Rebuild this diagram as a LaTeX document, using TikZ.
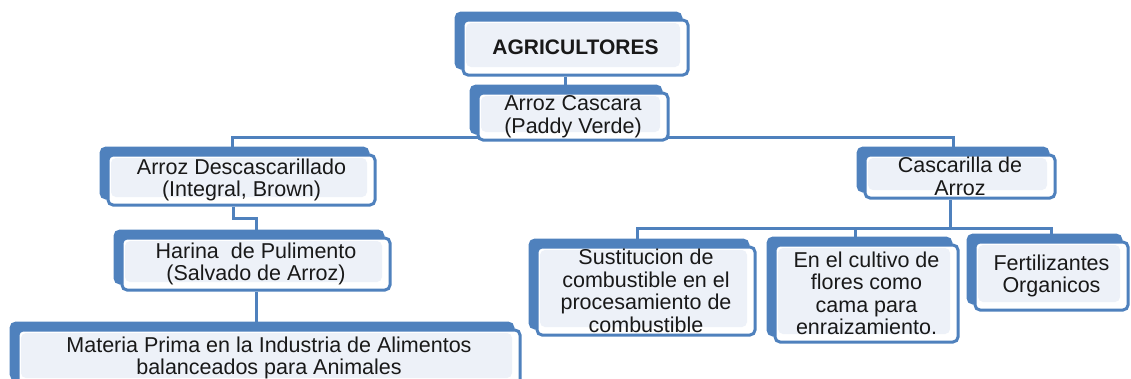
\documentclass[tikz,border=0pt]{standalone}
\usepackage{fontspec}
\setmainfont{Liberation Sans}
\usetikzlibrary{positioning,shadows,backgrounds}
\definecolor{boxblue}{HTML}{4F81BD}
\definecolor{boxfill}{HTML}{EDF1F8}

\begin{document}
\begin{tikzpicture}[
  x=1pt,y=-1pt,
  orgbox/.style={draw=boxblue,line width=3pt,rounded corners=5pt,fill=white,
    align=center,inner sep=0pt,text=black!90,
    font=\fontsize{21.5}{22.5}\selectfont,
    copy shadow={shadow xshift=-7pt,shadow yshift=7pt,fill=boxblue,draw=boxblue},
    path picture={\fill[boxfill]
      ([shift={(3pt,-3pt)}]path picture bounding box.north west) rectangle
      ([shift={(-8pt,8pt)}]path picture bounding box.south east);}},
  link/.style={draw=boxblue,line width=3pt}
]
\useasboundingbox (0,0) rectangle (1131,378);

% top of the tree
\node[orgbox,minimum width=225pt,minimum height=55pt,
  font=\fontsize{21}{22.5}\selectfont\bfseries] (agri) at (575.5,47.5) {AGRICULTORES};
\node[orgbox,minimum width=190pt,minimum height=47pt] (cascara) at (573,116.5)
  {Arroz Cascara\\(Paddy Verde)};

% left branch
\node[orgbox,minimum width=267pt,minimum height=50pt] (descas) at (241.5,180)
  {Arroz Descascarillado\\(Integral, Brown)};
\node[orgbox,minimum width=268pt,minimum height=52pt] (harina) at (256,264)
  {Harina\ \ de Pulimento\\(Salvado de Arroz)};
\node[orgbox,minimum width=502pt,minimum height=56pt] (materia) at (269,358)
  {Materia Prima en la Industria de Alimentos\\balanceados para Animales};

% right branch
\node[orgbox,minimum width=190pt,minimum height=43pt] (cascarilla) at (960,176.5)
  {Cascarilla de\\Arroz};
\node[orgbox,minimum width=218pt,minimum height=88pt] (sustit) at (646,291)
  {Sustitucion de\\combustible en el\\procesamiento de\\combustible};
\node[orgbox,minimum width=183pt,minimum height=97pt] (cultivo) at (866.5,293.5)
  {En el cultivo de\\flores como\\cama para\\enraizamiento.};
\node[orgbox,minimum width=153pt,minimum height=68pt] (fert) at (1051.5,276)
  {Fertilizantes\\Organicos};

\coordinate (lbus) at (573,137);
\coordinate (rbus) at (950,228);

\begin{scope}[on background layer]
\draw[link] ([xshift=-10pt]agri.south) -- ([xshift=-10pt]agri.south |- cascara.north);
\draw[link] ([xshift=-9pt]descas.north) |- (lbus) -| ([xshift=-7pt]cascarilla.north);
\draw[link] ([xshift=-8pt]descas.south) -- ++(0,12) -| (harina.north);
\draw[link] (harina.south) -- (harina.south |- materia.north);
\draw[link] ([xshift=-10pt]cascarilla.south) -- (rbus);
\draw[link] ([xshift=-9pt]sustit.north) |- (rbus) -| (fert.north);
\draw[link] ([xshift=-11pt]cultivo.north) -- ([xshift=-11pt]cultivo.north |- rbus);
\end{scope}
\end{tikzpicture}
\end{document}
